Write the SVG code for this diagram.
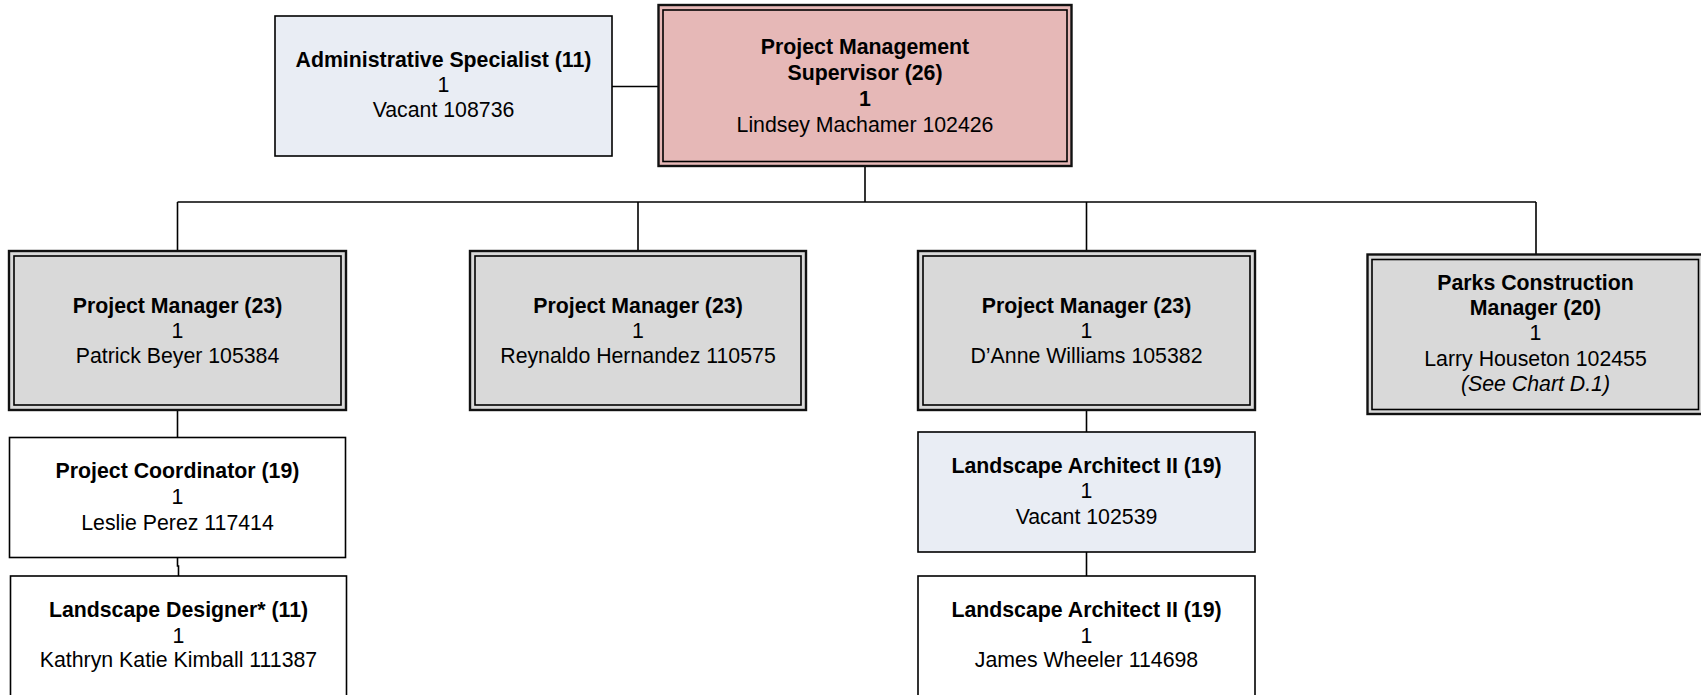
<svg xmlns="http://www.w3.org/2000/svg" width="1701" height="695" viewBox="0 0 1701 695">
<style>
  text { font-family: "Liberation Sans", Arial, sans-serif; font-size: 21.3px; fill: #000; text-anchor: middle; }
  .b { font-weight: bold; }
  .i { font-style: italic; }
  .single { stroke: #000; stroke-width: 1.6; }
  .outer { stroke: #111; stroke-width: 2.4; }
  .inner { fill: none; stroke: #000; stroke-width: 1.6; }
  .pink { fill: #e6b8b7; }
  .gray { fill: #d9d9d9; }
  .blue { fill: #e9edf4; }
  .white { fill: #ffffff; }
  .conn { fill: none; stroke: #000; stroke-width: 1.6; }
</style>
<rect width="1701" height="695" fill="#ffffff"/>
<g id="connectors">
  <path class="conn" d="M612 86.5 H658.5"/>
  <path class="conn" d="M865 166 V202"/>
  <path class="conn" d="M177.5 202 H1536"/>
  <path class="conn" d="M177.5 202 V251"/>
  <path class="conn" d="M638 202 V251"/>
  <path class="conn" d="M1086.5 202 V251"/>
  <path class="conn" d="M1536 202 V254.5"/>
  <path class="conn" d="M177.5 410 V437.5"/>
  <path class="conn" d="M177.5 557.5 V566 H178.5 V576"/>
  <path class="conn" d="M1086.5 410 V432"/>
  <path class="conn" d="M1086.5 552 V576"/>
</g>
<g id="admin-specialist">
  <rect class="single blue" x="275" y="16" width="337" height="140"/>
  <text class="b" x="443.5" y="67">Administrative Specialist (11)</text>
  <text x="443.5" y="91.5">1</text>
  <text x="443.5" y="116.5">Vacant 108736</text>
</g>
<g id="pm-supervisor">
  <rect class="outer pink" x="658.5" y="5" width="413" height="161"/>
  <rect class="inner" x="663" y="10" width="404" height="151.5"/>
  <text class="b" x="865" y="54">Project Management</text>
  <text class="b" x="865" y="79.5">Supervisor (26)</text>
  <text class="b" x="865" y="105.5">1</text>
  <text x="865" y="131.5">Lindsey Machamer 102426</text>
</g>
<g id="pm-beyer">
  <rect class="outer gray" x="9" y="251" width="337" height="159"/>
  <rect class="inner" x="14" y="256" width="327" height="149"/>
  <text class="b" x="177.5" y="313">Project Manager (23)</text>
  <text x="177.5" y="338">1</text>
  <text x="177.5" y="363">Patrick Beyer 105384</text>
</g>
<g id="pm-hernandez">
  <rect class="outer gray" x="470" y="251" width="336" height="159"/>
  <rect class="inner" x="475" y="256" width="326" height="149"/>
  <text class="b" x="638" y="313">Project Manager (23)</text>
  <text x="638" y="338">1</text>
  <text x="638" y="363">Reynaldo Hernandez 110575</text>
</g>
<g id="pm-williams">
  <rect class="outer gray" x="918" y="251" width="337" height="159"/>
  <rect class="inner" x="923" y="256" width="327" height="149"/>
  <text class="b" x="1086.5" y="313">Project Manager (23)</text>
  <text x="1086.5" y="338">1</text>
  <text x="1086.5" y="363">D’Anne Williams 105382</text>
</g>
<g id="parks-construction-manager">
  <rect class="outer gray" x="1367.5" y="254.5" width="336" height="159.5"/>
  <rect class="inner" x="1372" y="259.5" width="326.5" height="150"/>
  <text class="b" x="1535.5" y="290">Parks Construction</text>
  <text class="b" x="1535.5" y="315">Manager (20)</text>
  <text x="1535.5" y="340">1</text>
  <text x="1535.5" y="365.5">Larry Houseton 102455</text>
  <text class="i" x="1535.5" y="390.5">(See Chart D.1)</text>
</g>
<g id="project-coordinator">
  <rect class="single white" x="9.5" y="437.5" width="336" height="120"/>
  <text class="b" x="177.5" y="478">Project Coordinator (19)</text>
  <text x="177.5" y="504">1</text>
  <text x="177.5" y="530">Leslie Perez 117414</text>
</g>
<g id="landscape-designer">
  <rect class="single white" x="10.5" y="576" width="336" height="130"/>
  <text class="b" x="178.5" y="617">Landscape Designer* (11)</text>
  <text x="178.5" y="642.5">1</text>
  <text x="178.5" y="667">Kathryn Katie Kimball 111387</text>
</g>
<g id="landscape-architect-vacant">
  <rect class="single blue" x="918" y="432" width="337" height="120"/>
  <text class="b" x="1086.5" y="473">Landscape Architect II (19)</text>
  <text x="1086.5" y="498">1</text>
  <text x="1086.5" y="524">Vacant 102539</text>
</g>
<g id="landscape-architect-wheeler">
  <rect class="single white" x="918" y="576" width="337" height="130"/>
  <text class="b" x="1086.5" y="616.5">Landscape Architect II (19)</text>
  <text x="1086.5" y="642.5">1</text>
  <text x="1086.5" y="667">James Wheeler 114698</text>
</g>
</svg>
